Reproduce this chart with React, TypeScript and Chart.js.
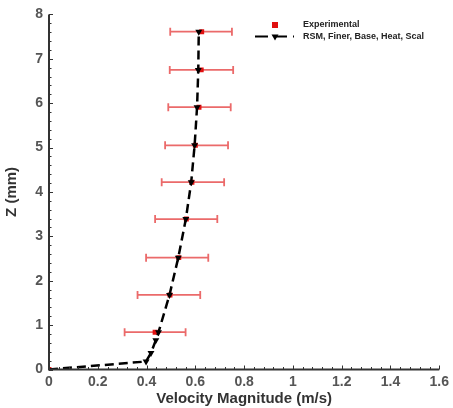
import React, { useEffect, useRef } from "react";
import { Chart, registerables } from "chart.js";
Chart.register(...registerables);

// Experimental data (Z in mm, velocity in m/s)
const expZ = [0, 0.84, 1.68, 2.52, 3.39, 4.22, 5.05, 5.91, 6.75, 7.61];
const expV = [0, 0.435, 0.496, 0.532, 0.563, 0.586, 0.6, 0.615, 0.624, 0.626];
const expLow = [null, 0.31, 0.363, 0.398, 0.435, 0.462, 0.476, 0.489, 0.495, 0.497];
const expHigh = [null, 0.56, 0.62, 0.653, 0.69, 0.718, 0.734, 0.745, 0.755, 0.75];

// Simulation: RSM, Finer, Base, Heat, Scal
const simZ = [0, 0.18, 0.37, 0.66, 0.84, 1.68, 2.52, 3.39, 4.22, 5.05, 5.91, 6.75, 7.61];
const simV = [0, 0.398, 0.418, 0.438, 0.449, 0.494, 0.53, 0.561, 0.583, 0.597, 0.607, 0.612, 0.614];

const legendLabels = ["Experimental", "RSM, Finer, Base, Heat, Scal"];
const xTitle = "Velocity Magnitude (m/s)";
const yTitle = "Z (mm)";

const RED = "#e01010";
const BAR_RED = "rgba(232,80,80,0.85)";

const errorBarPlugin = {
  id: "errorBars",
  beforeDatasetsDraw(chart: any) {
    const { ctx, scales } = chart;
    const xs = scales.x, ys = scales.y;
    ctx.save();
    ctx.strokeStyle = BAR_RED;
    ctx.lineWidth = 1.8;
    for (let i = 0; i < expZ.length; i++) {
      const lo = expLow[i], hi = expHigh[i];
      if (lo == null || hi == null) continue;
      const y = ys.getPixelForValue(expZ[i]);
      const x1 = xs.getPixelForValue(lo);
      const x2 = xs.getPixelForValue(hi);
      ctx.beginPath();
      ctx.moveTo(x1, y); ctx.lineTo(x2, y);
      ctx.moveTo(x1, y - 4); ctx.lineTo(x1, y + 4);
      ctx.moveTo(x2, y - 4); ctx.lineTo(x2, y + 4);
      ctx.stroke();
    }
    ctx.restore();
  },
};

const axesPlugin = {
  id: "axesTicks",
  afterDraw(chart: any) {
    const { ctx, chartArea, scales } = chart;
    const xs = scales.x, ys = scales.y;
    const { left, right, top, bottom } = chartArea;
    ctx.save();
    ctx.strokeStyle = "#333";
    ctx.lineWidth = 1;
    for (let v = 0; v <= 1.6001; v += 0.04) {
      const x = Math.round(xs.getPixelForValue(v)) + 0.5;
      const major = Math.abs(v / 0.2 - Math.round(v / 0.2)) < 1e-6;
      ctx.beginPath();
      ctx.moveTo(x, bottom);
      ctx.lineTo(x, bottom - (major ? 4 : 2.5));
      ctx.stroke();
    }
    for (let v = 0; v <= 8.0001; v += 0.2) {
      const y = Math.round(ys.getPixelForValue(v)) + 0.5;
      const major = Math.abs(v - Math.round(v)) < 1e-6;
      ctx.beginPath();
      ctx.moveTo(left, y);
      ctx.lineTo(left + (major ? 4 : 2.5), y);
      ctx.stroke();
    }
    ctx.lineWidth = 2;
    ctx.beginPath();
    ctx.moveTo(left, top);
    ctx.lineTo(left, bottom);
    ctx.lineTo(right, bottom);
    ctx.stroke();

    // legend
    ctx.font = "bold 9px 'Liberation Sans', Arial, sans-serif";
    ctx.textBaseline = "middle";
    ctx.textAlign = "left";
    const lx = 275, ly1 = 25, ly2 = 36.5, tx = 303;
    ctx.fillStyle = RED;
    ctx.fillRect(lx - 3, ly1 - 3, 6, 6);
    ctx.fillStyle = "#222";
    ctx.fillText(legendLabels[0], tx, ly1);
    ctx.strokeStyle = "#000";
    ctx.lineWidth = 2;
    ctx.setLineDash([13, 6]);
    ctx.beginPath();
    ctx.moveTo(255, ly2);
    ctx.lineTo(294, ly2);
    ctx.stroke();
    ctx.setLineDash([]);
    ctx.fillStyle = "#000";
    ctx.beginPath();
    ctx.moveTo(lx - 3.5, ly2 - 2);
    ctx.lineTo(lx + 3.5, ly2 - 2);
    ctx.lineTo(lx, ly2 + 4);
    ctx.closePath();
    ctx.fill();
    ctx.fillStyle = "#222";
    ctx.fillText(legendLabels[1], tx, ly2);
    ctx.restore();
  },
};

export default function App() {
  const ref = useRef<HTMLCanvasElement | null>(null);
  useEffect(() => {
    if (!ref.current) return;
    const tickFont = { family: "'Liberation Sans', Arial, sans-serif", size: 14, weight: "bold" as const };
    const titleFont = { family: "'Liberation Sans', Arial, sans-serif", size: 15, weight: "bold" as const };
    const chart = new Chart(ref.current, {
      type: "scatter",
      data: {
        datasets: [
          {
            type: "line",
            label: legendLabels[1],
            data: simV.map((v, i) => ({ x: v, y: simZ[i] })),
            borderColor: "#000",
            borderWidth: 2.5,
            borderDash: [9, 5],
            backgroundColor: "#000",
            pointStyle: "triangle",
            pointRotation: 180,
            pointRadius: simV.map((_, i) => (i === 0 ? 0 : 4)),
            pointBorderWidth: 0,
            tension: 0,
            fill: false,
            order: 0,
          } as any,
          {
            type: "scatter",
            label: legendLabels[0],
            data: expV.map((v, i) => ({ x: v, y: expZ[i] })),
            backgroundColor: RED,
            borderColor: RED,
            pointStyle: "rect",
            pointRadius: 3.5,
            pointBorderWidth: 0,
            order: 1,
          },
        ],
      },
      options: {
        animation: false,
        responsive: false,
        maintainAspectRatio: false,
        layout: { padding: { top: 9, right: 10, left: 0, bottom: 0 } },
        plugins: { legend: { display: false }, tooltip: { enabled: false } },
        scales: {
          x: {
            type: "linear",
            min: 0,
            max: 1.6,
            grid: { display: false, drawTicks: false },
            border: { display: false },
            ticks: {
              stepSize: 0.2,
              padding: 4,
              color: "#555",
              font: tickFont,
              maxRotation: 0,
              callback: (v: any) => String(Number(Number(v).toFixed(1))),
            },
            title: { display: true, text: xTitle, color: "#333", font: titleFont, padding: { top: 0, bottom: 0 } },
            afterFit: (s: any) => { s.height = 38.5; },
          },
          y: {
            type: "linear",
            min: 0,
            max: 8,
            grid: { display: false, drawTicks: false },
            border: { display: false },
            ticks: { stepSize: 1, padding: 6, color: "#555", font: tickFont },
            title: { display: true, text: yTitle, color: "#333", font: titleFont, padding: { top: 3, bottom: 3 } },
            afterFit: (s: any) => { s.width = 49; },
          },
        },
      },
      plugins: [errorBarPlugin, axesPlugin],
    });
    return () => chart.destroy();
  }, []);
  return (
    <div style={{ position: "absolute", left: 0, top: 0, width: 453, height: 408, background: "#fff" }}>
      <canvas ref={ref} width={453} height={408} style={{ display: "block" }} />
    </div>
  );
}
